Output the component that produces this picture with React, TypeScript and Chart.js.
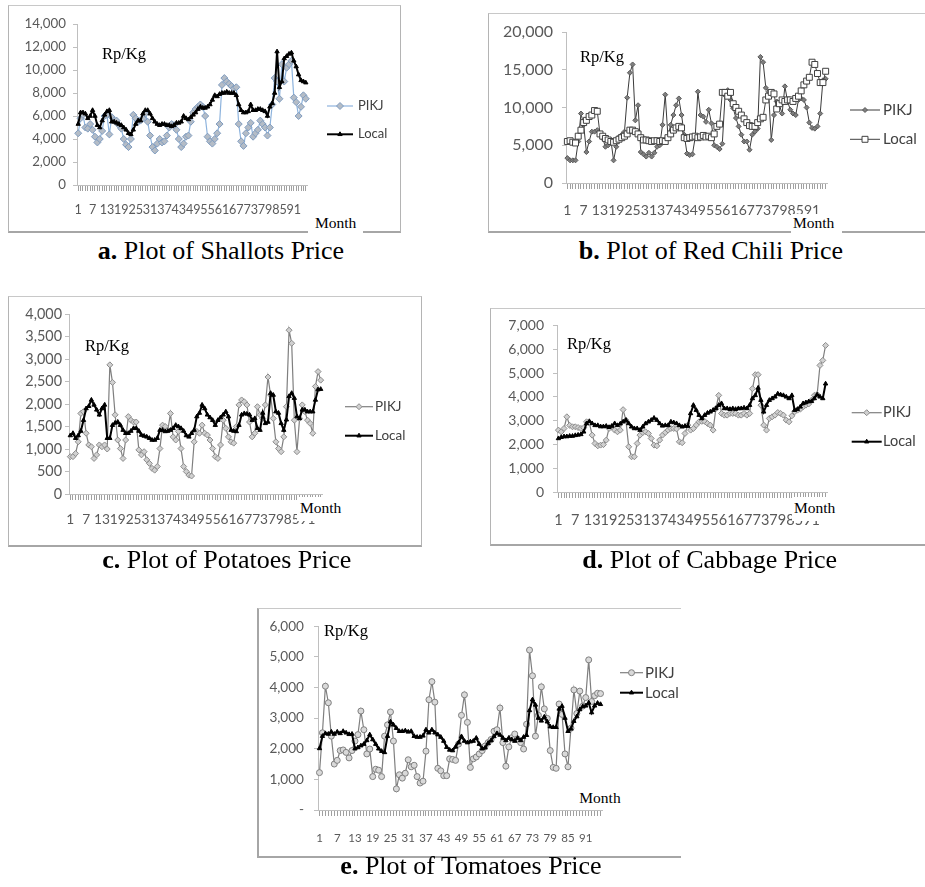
import React, { useEffect, useRef } from 'react';
import { Chart, registerables } from 'chart.js';

Chart.register(...registerables);

// ---------- data ----------
const months: string[] = Array.from({ length: 96 }, (_, i) => String(i + 1));
const tickEvery = 6;

const shallotsPIKJ = [
  4500, 5800, 6100, 5000, 4900, 5300, 4800, 4200, 3700, 4000,
  4700, 6000, 6100, 4400, 5900, 5600, 5600, 5200, 4900, 4000,
  3500, 3300, 4000, 6100, 5800, 5500, 5600, 5800, 6200, 5500,
  4300, 3300, 3000, 3600, 4000, 3700, 3800, 4300, 5000, 5300,
  5200, 4800, 4000, 3300, 3600, 4200, 4300, 5500, 6300, 6600,
  6800, 7000, 6800, 6000, 4200, 3800, 3600, 4000, 4500, 5300,
  8700, 9300, 9000, 8800, 8600, 8400, 8500, 5300, 3800, 3400,
  4500, 5000, 5400, 4200, 4500, 4800, 5600, 5300, 5000, 4300,
  5000, 7000, 9300, 9000, 7500, 10500, 9000, 10200, 10500, 10800,
  7600, 7200, 6000, 6800, 7800, 7500,
];
const shallotsLocal = [
  5300, 6300, 6300, 6200, 5800, 6000, 6500, 6000, 5200, 5000,
  5600, 6100, 6400, 6500, 5500, 5500, 5400, 5300, 5200, 5000,
  4800, 4500, 4400, 4800, 5300, 5600, 5600, 6200, 6500, 6500,
  6200, 5800, 5500, 5300, 5200, 5300, 5300, 5200, 5200, 5100,
  5200, 5400, 5400, 5500, 6000, 5800, 5700, 5900, 6100, 6300,
  6600, 6800, 6700, 6700, 6800, 7000, 7400, 7800, 7700, 7900,
  8000, 8000, 8100, 8000, 8000, 8000, 7800, 7000, 6500, 6300,
  6300, 6400, 7000, 6500, 6500, 6600, 6600, 6500, 6400, 6000,
  6800, 7100, 8000, 11600, 8500, 9000, 11000, 11200, 11400, 11500,
  10800, 10300, 9600, 9100, 9000, 8900,
];

const chiliPIKJ = [
  3300, 3000, 3000, 3000, 5500, 9200, 7700, 4100, 5500, 6800,
  6800, 7000, 6400, 5900, 4800, 5000, 5700, 3000, 4800, 6100,
  6400, 6800, 11300, 14600, 15700, 8300, 10300, 4100, 3800, 3500,
  4000, 3500, 4000, 4800, 5000, 7700, 11700, 6100, 7700, 9000,
  10300, 11200, 9000, 6400, 3900, 3700, 3800, 6000, 12100, 9000,
  8800, 8100, 9700, 7900, 5000, 4800, 4500, 5200, 11600, 12300,
  11000, 9900, 8600, 7500, 6400, 5500, 5500, 4400, 6400, 6800,
  7200, 16700, 16000, 12600, 12100, 5700, 9000, 10800, 10300, 9200,
  12800, 10800, 9700, 9200, 9000, 11000, 11200, 11000, 10000, 8000,
  7300, 7200, 7500, 9200, 13600, 13800,
];
const chiliLocal = [
  5500, 5600, 5400, 5300, 6200, 7000, 8000, 8300, 8800, 9000,
  9600, 9500, 6500, 6200, 5900, 5700, 5500, 5400, 5600, 5800,
  6000, 6200, 6500, 7000, 7000, 6800, 6500, 6000, 5700, 5700,
  5600, 5500, 5600, 5600, 5500, 5600, 5500, 6000, 6500, 7000,
  7300, 7500, 7300, 6000, 5900, 6000, 6100, 6200, 6000, 6100,
  6300, 6100, 6200, 6000, 6500, 7500, 7800, 12000, 12000, 11500,
  12000, 10500, 10000, 9500, 9000, 8500, 8000, 7600, 7500, 7500,
  8000, 8500, 8700, 11000, 11500, 12000, 11800, 9800, 10500, 11000,
  10800, 11000, 11000, 10800, 11200, 11500, 12200, 13000, 13500, 14000,
  16000, 15700, 14500, 13300, 13300, 14800,
];

const potatoPIKJ = [
  830, 830, 900, 1160, 1790, 1830, 1350, 1090, 1050, 790,
  870, 1090, 1050, 1090, 1000, 2870, 2480, 1760, 1200, 1010,
  790, 1200, 1720, 1640, 1600, 1600, 980, 870, 940, 760,
  680, 570, 530, 610, 1010, 1530, 1500, 1420, 1790, 1270,
  1200, 1390, 1010, 610, 500, 420, 400, 1160, 1390, 1350,
  1530, 1350, 1310, 1200, 1010, 830, 790, 1090, 1640, 1460,
  1270, 1160, 1130, 1500, 1980, 2090, 2050, 1980, 1600, 1270,
  1350, 1940, 1760, 1680, 1980, 2600, 2200, 1680, 1160, 1010,
  940, 1270, 1940, 3640, 3350, 1640, 940, 1680, 1980, 1830,
  1640, 1570, 1350, 2390, 2720, 2530,
];
const potatoLocal = [
  1300, 1350, 1240, 1300, 1400, 1640, 1900, 1950, 2090, 1980,
  1870, 1760, 1900, 1980, 1240, 1240, 1530, 1580, 1600, 1530,
  1420, 1350, 1350, 1400, 1460, 1460, 1400, 1310, 1290, 1270,
  1240, 1200, 1200, 1240, 1420, 1420, 1390, 1400, 1420, 1460,
  1530, 1500, 1460, 1400, 1300, 1270, 1350, 1420, 1720, 1800,
  1980, 1900, 1760, 1700, 1640, 1530, 1640, 1700, 1760, 1830,
  1720, 1420, 1400, 1390, 1530, 1760, 1790, 1780, 1760, 1640,
  1680, 1460, 1420, 1800, 1570, 1600, 2240, 2200, 1830, 1800,
  1570, 1420, 1650, 2170, 2240, 2130, 1720, 1680, 1870, 1870,
  1830, 1830, 1830, 2090, 2320, 2330,
];

const cabbagePIKJ = [
  2600, 2530, 2670, 3160, 2800, 2740, 2740, 2710, 2670, 2700,
  2950, 2900, 2390, 2040, 1940, 1970, 1990, 2180, 2670, 2740,
  2600, 2530, 2600, 3460, 3020, 1900, 1480, 1480, 2040, 2390,
  2500, 2530, 2460, 2250, 1970, 1940, 2180, 2390, 2500, 2600,
  2670, 2670, 2650, 2110, 2070, 2460, 2810, 2600, 2670, 2810,
  2950, 2970, 2970, 2880, 2810, 2600, 3510, 4060, 3300, 3230,
  3230, 3300, 3300, 3300, 3230, 3230, 3300, 3230, 3300, 4340,
  4930, 4930, 3650, 2810, 2600, 3090, 3160, 3230, 3340, 3300,
  3230, 3020, 2950, 3200, 3370, 3440, 3480, 3580, 3650, 3700,
  3860, 4060, 4100, 5320, 5530, 6160,
];
const cabbageLocal = [
  2250, 2300, 2330, 2330, 2350, 2350, 2380, 2400, 2420, 2530,
  2880, 2970, 2880, 2800, 2800, 2750, 2750, 2770, 2720, 2770,
  2880, 2800, 2870, 2950, 3020, 2880, 2740, 2670, 2670, 2600,
  2740, 2880, 2950, 3020, 3110, 3020, 2880, 2780, 2800, 2800,
  2950, 2920, 2880, 2800, 2740, 2770, 2770, 3300, 3650, 3440,
  3230, 3090, 3230, 3320, 3370, 3440, 3510, 3650, 3720, 3510,
  3510, 3480, 3510, 3480, 3510, 3510, 3540, 3510, 3650, 3930,
  4060, 4370, 3860, 3370, 3650, 3860, 3930, 4000, 4130, 4090,
  4060, 4000, 3930, 4060, 3440, 3480, 3580, 3720, 3760, 3800,
  3810, 3930, 4090, 4000, 3930, 4550,
];

const tomatoPIKJ = [
  1220, 2520, 4040, 3500, 2410, 1500, 1620, 1940, 1960, 1880,
  1700, 1940, 2250, 2460, 3230, 2620, 1830, 1990, 1090, 1330,
  1300, 1090, 2410, 2780, 3200, 2250, 690, 1150, 1040, 1200,
  1640, 1410, 1460, 1090, 880, 940, 1920, 3600, 4190, 3520,
  1360, 1280, 1120, 1120, 1670, 1650, 1620, 2150, 3090, 3760,
  2860, 1390, 1670, 1730, 1830, 1940, 2090, 2200, 2300, 2570,
  2620, 3330, 2200, 1430, 2060, 2360, 2480, 2310, 2200, 1990,
  2800, 5220, 4380, 2410, 3090, 4020, 3300, 2990, 1940, 1390,
  1360, 3460, 3120, 1830, 1410, 2670, 3920, 3150, 3880, 3390,
  3670, 4900, 3540, 3730, 3810, 3800,
];
const tomatoLocal = [
  2010, 2410, 2500, 2480, 2550, 2480, 2550, 2500, 2570, 2520,
  2470, 2480, 2000, 2040, 2100, 2150, 2270, 2460, 2300, 2150,
  2000, 1920, 1880, 2410, 2880, 2780, 2670, 2570, 2570, 2590,
  2550, 2570, 2410, 2380, 2380, 2420, 2620, 2520, 2620, 2520,
  2460, 2380, 2250, 2050, 1960, 1940, 2060, 2200, 2400, 2250,
  2200, 2230, 2250, 2350, 2150, 2000, 2030, 2180, 2270, 2400,
  2500, 2450, 2350, 2270, 2350, 2300, 2250, 2350, 2270, 2380,
  2440, 3250, 3600, 3430, 3000, 2910, 3040, 2880, 2720, 2700,
  2700, 3300, 3390, 3000, 2570, 2650, 2900, 3050, 3280, 3380,
  3400, 3500, 3180, 3400, 3490, 3450,
];

const seriesNames = ['PIKJ', 'Local'];

// ---------- styling ----------
const SANS = 'Lato, "Open Sans", sans-serif';
const SERIF = '"Liberation Serif", "Times New Roman", Times, serif';
const AXIS = '#bfbfbf';
const XTICKS = '#a0a0a0';
const TICK = '#595959';

const blackTri = {
  borderColor: '#000000', borderWidth: 2, pointStyle: 'triangle', pointRadius: 2.5,
  pointBackgroundColor: '#000000', pointBorderColor: '#000000', pointBorderWidth: 1,
};
const grayDiamond = {
  borderColor: '#7f7f7f', borderWidth: 1.2, pointStyle: 'rectRot', pointRadius: 3,
  pointBackgroundColor: '#d0d0d0', pointBorderColor: '#8c8c8c', pointBorderWidth: 1,
};

const panels: any[] = [
  {
    id: 'a', caption: 'Plot of Shallots Price',
    pikj: shallotsPIKJ, local: shallotsLocal, yMax: 14000, yStep: 2000, zeroDash: false,
    box: { left: 8, top: 5, w: 393, h: 228 }, plot: { left: 69, top: 19, right: 94, bottom: 48 },
    yFont: 13.3, yPad: 7, xFont: 12.6, xPad: 12.5,
    pikjStyle: { borderColor: '#8db3dd', borderWidth: 1.2, pointStyle: 'rectRot', pointRadius: 3.5, pointBackgroundColor: '#b4bcc6', pointBorderColor: '#7f9cc0', pointBorderWidth: 1 },
    localStyle: blackTri,
    legend: { x1: 319, x2: 345, textX: 350, ys: [101, 129.3], size: 13 },
    rp: { left: 102, top: 45.2 },
    month: { left: 315, top: 214.1, pad: [1, 7, 2, 7] },
    cap: { cx: 221, top: 235.7 },
    frame: { right: true },
  },
  {
    id: 'b', caption: 'Plot of Red Chili Price',
    pikj: chiliPIKJ, local: chiliLocal, yMax: 20000, yStep: 5000, zeroDash: false,
    box: { left: 488, top: 13, w: 437, h: 220 }, plot: { left: 78, top: 19, right: 98, bottom: 50 },
    yFont: 16, yPad: 9, xFont: 14, xPad: 13.6,
    pikjStyle: { borderColor: '#3a3a3a', borderWidth: 1, pointStyle: 'rectRot', pointRadius: 2.5, pointBackgroundColor: '#7f7f7f', pointBorderColor: '#595959', pointBorderWidth: 1 },
    localStyle: { borderColor: '#404040', borderWidth: 1, pointStyle: 'rect', pointRadius: 4.2, pointBackgroundColor: '#ffffff', pointBorderColor: '#404040', pointBorderWidth: 1 },
    legend: { x1: 362, x2: 392, textX: 395, ys: [97, 126.3], size: 15 },
    rp: { left: 580, top: 48.4 },
    month: { left: 793, top: 214.1, pad: [0, 8, 3, 2] },
    cap: { cx: 711, top: 235.5 },
    frame: { right: false },
  },
  {
    id: 'c', caption: 'Plot of Potatoes Price',
    pikj: potatoPIKJ, local: potatoLocal, yMax: 4000, yStep: 500, zeroDash: false,
    box: { left: 8, top: 296, w: 414, h: 251 }, plot: { left: 61, top: 18, right: 100, bottom: 53 },
    yFont: 14.4, yPad: 3, xFont: 13.7, xPad: 12.8,
    pikjStyle: grayDiamond, localStyle: blackTri,
    legend: { x1: 337, x2: 365, textX: 367, ys: [110.7, 139.7], size: 13.5 },
    rp: { left: 85, top: 337 },
    month: { left: 300, top: 498.5, pad: [2, 5, 4, 3] },
    cap: { cx: 226.7, top: 545.2 },
    frame: { right: true },
  },
  {
    id: 'd', caption: 'Plot of Cabbage Price',
    pikj: cabbagePIKJ, local: cabbageLocal, yMax: 7000, yStep: 1000, zeroDash: false,
    box: { left: 490, top: 308, w: 435, h: 238 }, plot: { left: 67, top: 17, right: 98, bottom: 54 },
    yFont: 14, yPad: 9, xFont: 14.5, xPad: 14.3,
    pikjStyle: grayDiamond, localStyle: blackTri,
    legend: { x1: 361.7, x2: 391.7, textX: 393, ys: [104.7, 133.7], size: 14.5 },
    rp: { left: 567, top: 335.2 },
    month: { left: 794, top: 498.5, pad: [2, 8, 4, 2] },
    cap: { cx: 709.7, top: 545.2 },
    frame: { right: false },
  },
  {
    id: 'e', caption: 'Plot of Tomatoes Price',
    pikj: tomatoPIKJ, local: tomatoLocal, yMax: 6000, yStep: 1000, zeroDash: true,
    box: { left: 257, top: 608, w: 424, h: 250 }, plot: { left: 61, top: 12, right: 79, bottom: 48 },
    yFont: 13.6, yPad: 10, xFont: 11.5, xPad: 16,
    pikjStyle: { borderColor: '#7f7f7f', borderWidth: 1.2, pointStyle: 'circle', pointRadius: 3, pointBackgroundColor: '#d9d9d9', pointBorderColor: '#808080', pointBorderWidth: 1 },
    localStyle: blackTri,
    legend: { x1: 363, x2: 386, textX: 388, ys: [64.7, 84.7], size: 15 },
    rp: { left: 324, top: 622 },
    month: { left: 579.3, top: 789, pad: [0, 4, 3, 3] },
    cap: { cx: 471, top: 851.2 },
    frame: { right: false, thickLeft: true },
  },
];

// ---------- legend plugin (line + marker + label) ----------
function drawMarker(ctx: CanvasRenderingContext2D, style: string, x: number, y: number, r: number, fill: string, stroke: string, lw: number) {
  ctx.beginPath();
  if (style === 'rectRot') {
    ctx.moveTo(x, y - r); ctx.lineTo(x + r, y); ctx.lineTo(x, y + r); ctx.lineTo(x - r, y); ctx.closePath();
  } else if (style === 'triangle') {
    let rad = 0;
    ctx.moveTo(x + Math.sin(rad) * r, y - Math.cos(rad) * r);
    rad += (2 * Math.PI) / 3;
    ctx.lineTo(x + Math.sin(rad) * r, y - Math.cos(rad) * r);
    rad += (2 * Math.PI) / 3;
    ctx.lineTo(x + Math.sin(rad) * r, y - Math.cos(rad) * r);
    ctx.closePath();
  } else if (style === 'rect') {
    const s = r * Math.SQRT1_2;
    ctx.rect(x - s, y - s, 2 * s, 2 * s);
  } else {
    ctx.arc(x, y, r, 0, Math.PI * 2);
  }
  ctx.fillStyle = fill; ctx.fill();
  ctx.lineWidth = lw; ctx.strokeStyle = stroke; ctx.stroke();
}

const lineLegend = {
  id: 'lineLegend',
  afterDraw(chart: any, _args: any, opts: any) {
    if (!opts || !opts.ys) return;
    const ctx = chart.ctx as CanvasRenderingContext2D;
    ctx.save();
    chart.data.datasets.forEach((ds: any, k: number) => {
      const y = opts.ys[k];
      ctx.beginPath();
      ctx.strokeStyle = ds.borderColor; ctx.lineWidth = ds.borderWidth;
      ctx.moveTo(opts.x1, y); ctx.lineTo(opts.x2, y); ctx.stroke();
      drawMarker(ctx, ds.pointStyle, (opts.x1 + opts.x2) / 2, y, ds.pointRadius, ds.pointBackgroundColor, ds.pointBorderColor, ds.pointBorderWidth);
      ctx.fillStyle = '#404040';
      ctx.font = `${opts.size}px ${SANS}`;
      ctx.textBaseline = 'middle'; ctx.textAlign = 'left';
      ctx.fillText(ds.label, opts.textX, y);
    });
    ctx.restore();
  },
};

function buildConfig(p: any): any {
  return {
    type: 'line',
    data: {
      labels: months,
      datasets: [
        { label: seriesNames[0], data: p.pikj, ...p.pikjStyle, order: 1, tension: 0, fill: false },
        { label: seriesNames[1], data: p.local, ...p.localStyle, order: 0, tension: 0, fill: false },
      ],
    },
    options: {
      responsive: false,
      maintainAspectRatio: false,
      animation: false,
      events: [],
      layout: { padding: { left: 0, top: p.plot.top, right: p.plot.right, bottom: 0 } },
      plugins: {
        legend: { display: false },
        tooltip: { enabled: false },
        title: { display: false },
        lineLegend: p.legend,
      },
      scales: {
        x: {
          type: 'category',
          offset: true,
          grid: { drawOnChartArea: false, drawTicks: true, tickLength: 6, color: XTICKS, lineWidth: 1 },
          border: { display: true, color: AXIS, width: 1 },
          ticks: {
            autoSkip: false, maxRotation: 0, minRotation: 0, padding: p.xPad - 1, color: TICK,
            font: { family: SANS, size: p.xFont },
            callback: (_v: any, i: number) => (i % tickEvery === 0 ? months[i] : ''),
          },
          afterFit: (s: any) => { s.height = p.plot.bottom; },
        },
        y: {
          type: 'linear',
          min: 0, max: p.yMax,
          grid: { drawOnChartArea: false, drawTicks: true, tickLength: 4, color: AXIS, lineWidth: 1 },
          border: { display: true, color: AXIS, width: 1 },
          ticks: {
            stepSize: p.yStep, padding: p.yPad, color: TICK,
            font: { family: SANS, size: p.yFont },
            callback: (v: any) => (v === 0 && p.zeroDash ? '-' : Number(v).toLocaleString('en-US')),
          },
          afterFit: (s: any) => { s.width = p.plot.left; },
        },
      },
    },
    plugins: [lineLegend],
  };
}

function Panel({ p }: { p: any }) {
  const ref = useRef<HTMLCanvasElement>(null);
  useEffect(() => {
    if (!ref.current) return;
    const chart = new Chart(ref.current, buildConfig(p));
    return () => chart.destroy();
  }, []);
  const b = p.box;
  const frameStyle: any = {
    position: 'absolute', left: b.left, top: b.top, width: b.w, height: b.h, boxSizing: 'border-box',
    borderTop: '1px solid #c8c8c8',
    borderLeft: p.frame.thickLeft ? '2px solid #a6a6a6' : '1px solid #b4b4b4',
    borderRight: p.frame.right ? '1px solid #b4b4b4' : 'none',
    borderBottom: '2px solid #a6a6a6',
  };
  const m = p.month;
  return (
    <>
      <div style={frameStyle} />
      <canvas
        ref={ref}
        width={b.w}
        height={b.h}
        style={{ position: 'absolute', left: b.left, top: b.top, width: b.w, height: b.h }}
      />
      <div style={{ position: 'absolute', left: p.rp.left, top: p.rp.top, fontFamily: SERIF, fontSize: 16.5, lineHeight: '18px', background: '#fff', color: '#000', whiteSpace: 'nowrap' }}>
        Rp/Kg
      </div>
      <div style={{
        position: 'absolute', left: m.left - m.pad[3], top: m.top - m.pad[0],
        padding: `${m.pad[0]}px ${m.pad[1]}px ${m.pad[2]}px ${m.pad[3]}px`,
        fontFamily: SERIF, fontSize: 15.5, lineHeight: '18px', background: '#fff', color: '#000', whiteSpace: 'nowrap',
      }}>
        Month
      </div>
      <div style={{
        position: 'absolute', left: p.cap.cx - 250, top: p.cap.top, width: 500, textAlign: 'center',
        fontFamily: SERIF, fontSize: 26, lineHeight: '30px', color: '#000', whiteSpace: 'nowrap',
      }}>
        <b>{p.id}.</b> {p.caption}
      </div>
    </>
  );
}

export default function App() {
  return (
    <div style={{ position: 'absolute', left: 0, top: 0, width: 925, height: 887, background: '#fff', overflow: 'hidden' }}>
      {panels.map((p) => (
        <Panel key={p.id} p={p} />
      ))}
    </div>
  );
}
